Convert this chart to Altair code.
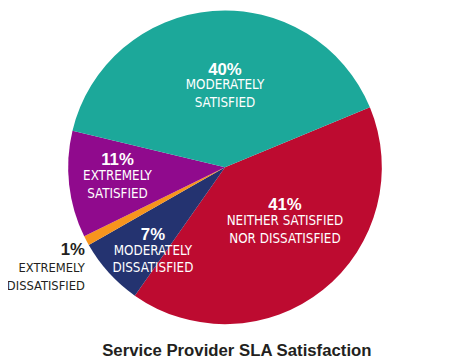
import math
import altair as alt
import pandas as pd

# ---- data ----
categories = [
    "Neither satisfied nor dissatisfied",
    "Moderately dissatisfied",
    "Extremely dissatisfied",
    "Extremely satisfied",
    "Moderately satisfied",
]
values = [41, 7, 1, 11, 40]
pct_labels = ["41%", "7%", "1%", "11%", "40%"]
desc_labels = [
    "NEITHER SATISFIED\nNOR DISSATISFIED",
    "MODERATELY\nDISSATISFIED",
    "EXTREMELY\nDISSATISFIED",
    "EXTREMELY\nSATISFIED",
    "MODERATELY\nSATISFIED",
]
colors = ["#bd0b30", "#243370", "#f7941d", "#900a8d", "#1ca89a"]
outside = [False, False, True, False, False]

# ---- label layout tweaks (radial distance in px, angular nudge in % units) ----
label_radius = [76, 105, 170, 109, 92]
label_nudge = [-4.0, -1.0, -1.5, 1.8, 1.25]

df = pd.DataFrame({
    "category": categories,
    "value": values,
    "pct": pct_labels,
    "desc": desc_labels,
    "order": list(range(len(categories))),
    "outside": outside,
    "lr": label_radius,
    "nudge": label_nudge,
})

START = math.radians(67.5)
theta_scale = alt.Scale(domain=[0, 100], range=[START, START + 2 * math.pi])
color_scale = alt.Scale(domain=categories, range=colors)

NARROW = "DejaVu Sans Condensed"
BOLD = "Liberation Sans"

base = alt.Chart(df)

arcs = base.mark_arc(radius=159).encode(
    theta=alt.Theta("value:Q", stack=True, scale=theta_scale),
    color=alt.Color("category:N", scale=color_scale, legend=None),
    order=alt.Order("order:Q"),
)

lab = base.transform_window(
    cum="sum(value)", sort=[alt.SortField("order")], frame=[None, 0]
).transform_calculate(
    mid="datum.cum - datum.value / 2 + datum.nudge"
)

enc = dict(
    theta=alt.Theta("mid:Q", stack=None, scale=theta_scale),
    radius=alt.Radius("lr:Q", scale=None),
)

pct_in = lab.transform_filter("!datum.outside").mark_text(
    font=BOLD, fontSize=17, fontWeight="bold", color="white",
    baseline="alphabetic", dy=-2,
).encode(text="pct:N", **enc)

desc_in = lab.transform_filter("!datum.outside").mark_text(
    font=NARROW, fontSize=13.5, color="white", baseline="top",
    lineBreak="\n", lineHeight=18, dy=2,
).encode(text="desc:N", **enc)

pct_out = lab.transform_filter("datum.outside").mark_text(
    font=BOLD, fontSize=17, fontWeight="bold", color="#231f20",
    baseline="alphabetic", align="right", dy=-4,
).encode(text="pct:N", **enc)

desc_out = lab.transform_filter("datum.outside").mark_text(
    font=NARROW, fontSize=13, color="#231f20", baseline="top",
    align="right", lineBreak="\n", lineHeight=18, dy=3,
).encode(text="desc:N", **enc)

chart = alt.layer(arcs, pct_in, desc_in, pct_out, desc_out).properties(
    width=440,
    height=318,
    padding={"left": 0, "top": 0, "right": 0, "bottom": 46},
    autosize=alt.AutoSizeParams(type="none"),
    title=alt.TitleParams(
        "Service Provider SLA Satisfaction",
        orient="bottom",
        font=BOLD,
        fontSize=17,
        fontWeight="bold",
        color="#231f20",
        dx=12,
        offset=19,
    ),
).configure_view(stroke=None)

chart.save("out.html", embed_options={"renderer": "svg", "actions": False})
